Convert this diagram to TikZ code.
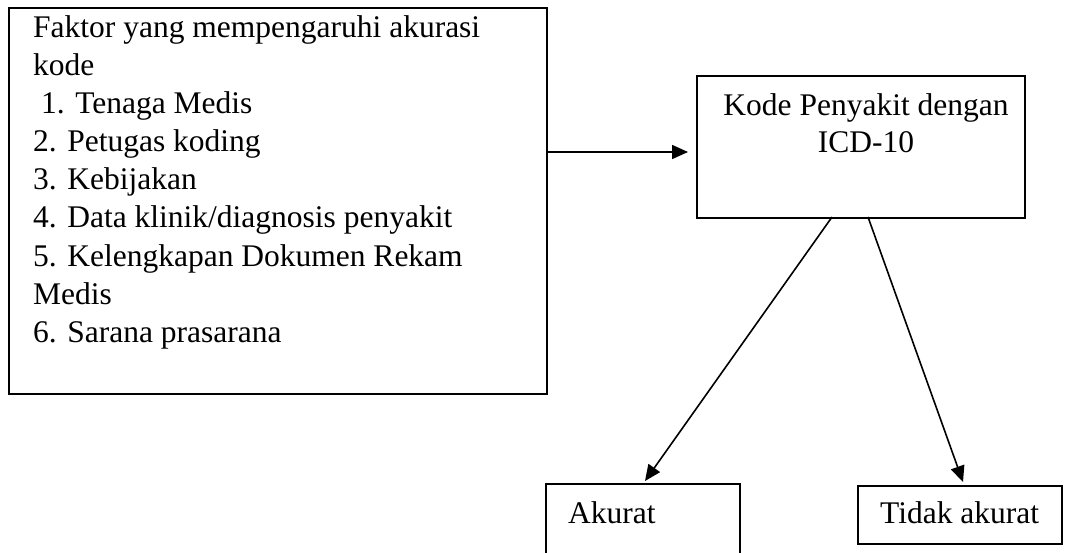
\documentclass[tikz,border=0pt]{standalone}
\usepackage{fontspec}
\setmainfont{Liberation Serif}
\usetikzlibrary{arrows.meta}
\begin{document}
\begin{tikzpicture}[x=1pt,y=-1pt,
  box/.style={draw=black,line width=2pt,inner sep=0pt},
  txt/.style={inner sep=0pt,anchor=base west,font=\fontsize{31.5}{38}\selectfont},
  ctxt/.style={inner sep=0pt,anchor=base,font=\fontsize{31.5}{38}\selectfont},
  conn/.style={line width=1.6pt,-{Triangle[length=16pt,width=14pt]}}]
\useasboundingbox (0,0) rectangle (1084,552);
\clip (0,0) rectangle (1084,552);
% boxes
\node[box,minimum width=538pt,minimum height=386pt,anchor=north west] (factors) at (8,7) {};
\node[box,minimum width=328pt,minimum height=142pt,anchor=north west] (kode) at (696,75) {};
\node[box,minimum width=194pt,minimum height=90pt,anchor=north west] (akurat) at (545,483) {};
\node[box,minimum width=204pt,minimum height=58pt,anchor=north west] (tidak) at (857,485) {};
% texts
\node[txt] (t1) at (33,37) {Faktor yang mempengaruhi akurasi};
\node[txt] (t2) at (33,75) {kode};
\node[txt] (t3) at (41,113) {1. Tenaga Medis};
\node[txt] (t4) at (33,151) {2. Petugas koding};
\node[txt] (t5) at (33,189) {3. Kebijakan};
\node[txt] (t6) at (33,227) {4. Data klinik/diagnosis penyakit};
\node[txt] (t7) at (33,266) {5. Kelengkapan Dokumen Rekam};
\node[txt] (t8) at (33,304) {Medis};
\node[txt] (t9) at (33,342) {6. Sarana prasarana};
\node[ctxt] (k1) at (866,115) {Kode Penyakit dengan};
\node[ctxt] (k2) at (866,152) {ICD-10};
\node[txt] (a1) at (568,523) {Akurat};
\node[txt] (d1) at (880,523) {Tidak akurat};
% connector end points
\coordinate (arrStart) at (factors.east |- 0,152);
\coordinate (arrEnd) at (kode.west |- 0,152);
\coordinate (l1s) at (832,217);
\coordinate (l1e) at (645,481);
\coordinate (l2s) at (868,217);
\coordinate (l2e) at (963,482);
\draw[conn,shorten >=8pt] (arrStart) -- (arrEnd);
\draw[conn] (l1s) -- (l1e);
\draw[conn] (l2s) -- (l2e);
\end{tikzpicture}
\end{document}
